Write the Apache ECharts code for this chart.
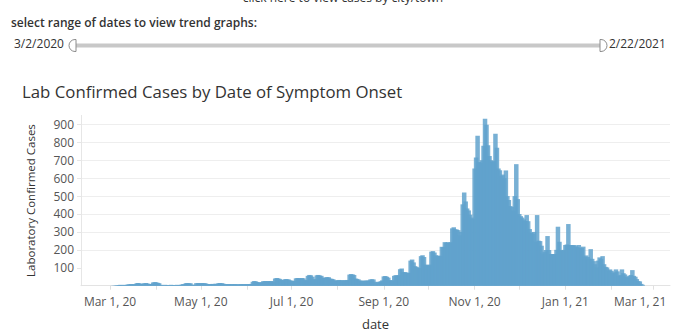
<!DOCTYPE html>
<html><head><meta charset="utf-8">
<script src="https://cdn.jsdelivr.net/npm/echarts@6/dist/echarts.min.js"></script>
<style>html,body{margin:0;padding:0;background:#fff;overflow:hidden}#c{width:686px;height:331px}</style>
</head><body><div id="c"></div>
<script>
// ---- data ----
const firstDay = [2020, 2, 2];           // 3/2/2020 (year, monthIndex, day)
const casesMar20 = [0,1,1,2,3,4,5,4,3,5,4,6,8,9,7,9,8,14,15,13,9,8,14,15,13,10,8,9,18,20];
const casesApr20 = [19,16,14,5,4,3,5,4,4,3,5,4,4,3,5,4,4,6,9,8,14,15,13,14,6,5,4,14,15,13];
const casesMay20 = [14,15,13,14,10,8,9,9,10,8,11,10,14,15,14,12,9,8,9,9,8,9,8,9,8,7,8,9,8,9,8];
const casesJun20 = [9,8,9,10,22,26,24,20,18,17,20,25,26,24,26,25,26,24,22,40,43,41,38,32,30,34,37,36,35,30];
const casesJul20 = [28,25,27,41,43,42,40,43,41,32,30,55,60,58,50,37,35,58,60,57,55,45,43,46,48,47,40,38,36,30,28];
const casesAug20 = [30,32,28,31,30,29,32,31,62,65,63,60,40,38,35,28,27,29,26,28,30,27,35,36,35,22,13,20,22,25,30];
const casesSep20 = [52,54,50,45,31,30,29,55,59,57,58,92,96,75,76,74,70,72,140,146,130,109,105,100,98,165,170,160,118,115];
const casesOct20 = [112,118,190,193,185,170,165,168,165,217,215,243,240,243,238,243,320,326,315,313,310,281,300,454,520,470,431,420,396,380,372];
const casesNov20 = [654,715,837,690,685,700,780,931,898,783,724,700,690,696,848,770,654,644,613,620,600,643,500,478,444,440,420,500,678,483];
const casesDec20 = [400,388,380,370,361,394,360,316,296,290,300,245,394,251,249,223,180,190,199,277,199,177,177,175,177,200,329,245,199,195,200];
const casesJan21 = [227,230,344,227,227,225,227,220,215,227,212,210,218,162,169,160,150,204,150,137,120,102,140,158,150,165,120,105,102,85,91];
const casesFeb21 = [83,70,75,91,80,54,60,91,70,63,50,45,55,60,87,55,50,37,26,24,10,5];

const tickMonths = [[2020,2],[2020,3],[2020,4],[2020,5],[2020,6],[2020,7],[2020,8],[2020,9],[2020,10],[2020,11],[2021,0],[2021,1],[2021,2]];
const labelMonths = [[2020,2],[2020,4],[2020,6],[2020,8],[2020,10],[2021,0],[2021,2]];
const yTickValues = [100,200,300,400,500,600,700,800,900];
const monthNames = ['Jan','Feb','Mar','Apr','May','Jun','Jul','Aug','Sep','Oct','Nov','Dec'];

const titleText = 'Lab Confirmed Cases by Date of Symptom Onset';
const yName = 'Laboratory Confirmed Cases';
const xName = 'date';
const rangeStartText = '3/2/2020';
const rangeEndText = '2/22/2021';
const selectText = 'select range of dates to view trend graphs:';
const topText = 'click here to view cases by city/town';

// ---- build ----
const cases = [].concat(casesMar20,casesApr20,casesMay20,casesJun20,casesJul20,casesAug20,
  casesSep20,casesOct20,casesNov20,casesDec20,casesJan21,casesFeb21);
const seriesData = cases.map((v,i)=>[new Date(firstDay[0],firstDay[1],firstDay[2]+i).getTime(), v]);
const tickVals = tickMonths.map(m=>new Date(m[0],m[1],1).getTime());
const labelVals = labelMonths.map(m=>new Date(m[0],m[1],1).getTime());
const lastLabel = labelVals[labelVals.length-1];

const xMin = new Date(2020,1,10,12).getTime();
const xMax = new Date(2021,2,12,7).getTime();

const FONT = '"Open Sans", sans-serif';
const chart = echarts.init(document.getElementById('c'), null, {renderer:'svg'});
chart.setOption({
  animation:false,
  backgroundColor:'#ffffff',
  textStyle:{fontFamily:FONT},
  title:{text:titleText,left:17,top:78,textStyle:{fontFamily:FONT,fontSize:16.8,fontWeight:'normal',color:'#333333'}},
  grid:{left:81,right:16,top:115.4,bottom:45.3,containLabel:false,outerBoundsMode:'none'},
  xAxis:{type:'value',min:xMin,max:xMax,
    name:xName,nameLocation:'middle',nameGap:32,
    nameTextStyle:{fontFamily:FONT,fontSize:13,color:'#333333'},
    axisLine:{show:true,lineStyle:{color:'#e3e3e3',width:1}},
    axisTick:{show:true,customValues:tickVals,length:4,lineStyle:{color:'#e0e0e0'}},
    axisLabel:{customValues:labelVals,fontFamily:FONT,fontSize:12,color:'#555555',margin:10,
      formatter:function(v){const d=new Date(v);const s=monthNames[d.getMonth()]+' '+d.getDate()+', '+String(d.getFullYear()).slice(2);
        return v===lastLabel?'{r|'+s+'}':s;},
      rich:{r:{fontFamily:FONT,fontSize:12,color:'#555555',padding:[0,26,0,0]}}},
    splitLine:{show:false}},
  yAxis:{type:'value',min:0,max:950,interval:100,
    name:yName,nameLocation:'middle',nameGap:45,
    nameTextStyle:{fontFamily:FONT,fontSize:11.5,color:'#333333',fontWeight:'500'},
    axisLine:{show:true,lineStyle:{color:'#e6e6e6'}},
    axisTick:{show:true,length:4,lineStyle:{color:'#e6e6e6'},customValues:yTickValues},
    axisLabel:{customValues:yTickValues,fontFamily:FONT,fontSize:12,color:'#555555',margin:7},
    splitLine:{show:true,lineStyle:{color:['rgba(0,0,0,0)','#eeeeee','#eeeeee','#eeeeee','#eeeeee','#eeeeee','#eeeeee','#eeeeee','#eeeeee','#eeeeee','rgba(0,0,0,0)'],width:1}}},
  series:[{type:'bar',data:seriesData,barWidth:4.5,
    itemStyle:{color:'rgb(96,162,204)',opacity:0.85},emphasis:{disabled:true}}],
  graphic:[
    {type:'text',left:'center',top:-9,style:{text:topText,font:'12px '+FONT,fill:'#333333'}},
    {type:'text',left:11,top:16,style:{text:selectText,font:'600 12px '+FONT,fill:'#333333'}},
    {type:'text',left:14,top:37,style:{text:rangeStartText,font:'12px '+FONT,fill:'#333333'}},
    {type:'rect',shape:{x:76,y:43.5,width:524,height:4},style:{fill:'#c8c8c8'}},
    {type:'rect',shape:{x:69,y:39.5,width:7,height:12,r:[6,0,0,6]},style:{fill:'#ffffff',stroke:'#8c8c8c',lineWidth:1}},
    {type:'rect',shape:{x:600,y:39.5,width:7,height:12,r:[0,6,6,0]},style:{fill:'#ffffff',stroke:'#8c8c8c',lineWidth:1}},
    {type:'text',left:609,top:37,style:{text:rangeEndText,font:'12px '+FONT,fill:'#333333'}}
  ]
});
</script></body></html>
